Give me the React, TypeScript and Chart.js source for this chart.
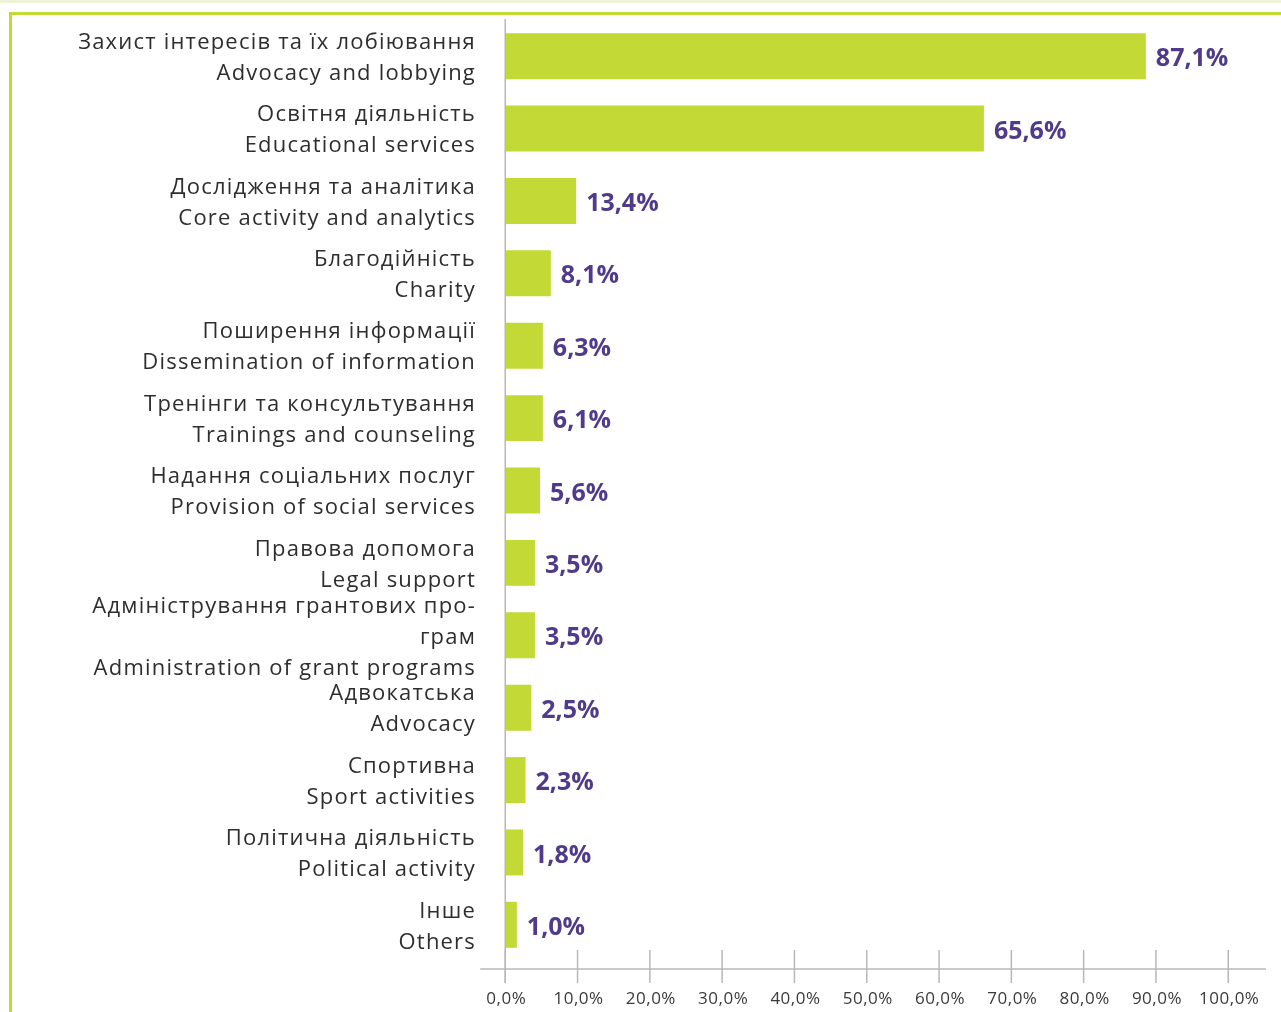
import React, { useEffect, useRef } from "react";
import { Chart, registerables } from "chart.js";

Chart.register(...registerables);

const labelsUk: string[][] = [
  ["Захист інтересів та їх лобіювання"],
  ["Освітня діяльність"],
  ["Дослідження та аналітика"],
  ["Благодійність"],
  ["Поширення інформації"],
  ["Тренінги та консультування"],
  ["Надання соціальних послуг"],
  ["Правова допомога"],
  ["Адміністрування грантових про-", "грам"],
  ["Адвокатська"],
  ["Спортивна"],
  ["Політична діяльність"],
  ["Інше"],
];

const labelsEn: string[] = [
  "Advocacy and lobbying",
  "Educational services",
  "Core activity and analytics",
  "Charity",
  "Dissemination of information",
  "Trainings and counseling",
  "Provision of social services",
  "Legal support",
  "Administration of grant programs",
  "Advocacy",
  "Sport activities",
  "Political activity",
  "Others",
];

const barValues: number[] = [88.5, 66.1, 9.7, 6.2, 5.1, 5.1, 4.7, 4.0, 4.0, 3.5, 2.7, 2.35, 1.5];

// printed value labels
const valueLabels: string[] = [
  "87,1%", "65,6%", "13,4%", "8,1%", "6,3%", "6,1%", "5,6%",
  "3,5%", "3,5%", "2,5%", "2,3%", "1,8%", "1,0%",
];

const xTicks: number[] = [0, 10, 20, 30, 40, 50, 60, 70, 80, 90, 100];
const xTickLabels: string[] = [
  "0,0%", "10,0%", "20,0%", "30,0%", "40,0%", "50,0%",
  "60,0%", "70,0%", "80,0%", "90,0%", "100,0%",
];

const FONT = "'Open Sans', 'Noto Sans', sans-serif";
const BAR_COLOR = "#c3d935";
const PURPLE = "#503b8b";
const AXIS_COLOR = "#b8b8b8";

export default function App() {
  const canvasRef = useRef<HTMLCanvasElement | null>(null);

  useEffect(() => {
    const canvas = canvasRef.current;
    if (!canvas) return;

    const axisPlugin = {
      id: "customAxes",
      beforeDraw(chart: any) {
        (chart.ctx as any).letterSpacing = "1.2px";
      },
      beforeDatasetsDraw(chart: any) {
        const { ctx, chartArea, scales } = chart;
        const xs = scales.x;
        const axisY = chartArea.bottom + 8;
        ctx.save();
        (ctx as any).letterSpacing = "0.5px";
        ctx.strokeStyle = AXIS_COLOR;
        ctx.lineWidth = 1.5;
        const x0 = xs.getPixelForValue(0) - 0.75;
        ctx.beginPath();
        ctx.moveTo(x0, chartArea.top - 1);
        ctx.lineTo(x0, axisY + 14);
        ctx.stroke();
        ctx.beginPath();
        ctx.moveTo(x0 - 25, axisY);
        ctx.lineTo(xs.getPixelForValue(100) + 37, axisY);
        ctx.stroke();
        xTicks.forEach((v, i) => {
          const px = xs.getPixelForValue(v) - 0.75;
          ctx.beginPath();
          ctx.moveTo(px, axisY - 19);
          ctx.lineTo(px, axisY + 14);
          ctx.stroke();
          ctx.fillStyle = "#3a3a3a";
          ctx.font = `17px ${FONT}`;
          ctx.textAlign = "center";
          ctx.textBaseline = "middle";
          ctx.fillText(xTickLabels[i], px + 1, axisY + 30);
        });
        ctx.restore();
      },
      afterDatasetsDraw(chart: any) {
        const { ctx } = chart;
        const meta = chart.getDatasetMeta(0);
        ctx.save();
        (ctx as any).letterSpacing = "0px";
        ctx.fillStyle = PURPLE;
        ctx.font = `bold 25px ${FONT}`;
        ctx.textAlign = "left";
        ctx.textBaseline = "middle";
        meta.data.forEach((el: any, i: number) => {
          ctx.fillText(valueLabels[i], el.x + 10, el.y + 3);
        });
        ctx.restore();
      },
    };

    const labels = labelsUk.map((uk, i) => [...uk, labelsEn[i]]);

    const chart = new Chart(canvas, {
      type: "bar",
      data: {
        labels,
        datasets: [
          {
            data: barValues,
            backgroundColor: BAR_COLOR,
            borderWidth: 0,
            barPercentage: 0.635,
            categoryPercentage: 1,
          },
        ],
      },
      options: {
        indexAxis: "y",
        animation: false,
        responsive: false,
        devicePixelRatio: 1,
        layout: { padding: { left: 0, right: 52, top: 20, bottom: 51 } },
        plugins: {
          legend: { display: false },
          tooltip: { enabled: false },
        },
        scales: {
          x: { type: "linear", min: 0, max: 100, display: false },
          y: {
            grid: { display: false, drawTicks: false },
            border: { display: false },
            ticks: {
              autoSkip: false,
              padding: 30,
              labelOffset: 2,
              color: "#2e2e2e",
              font: { family: FONT, size: 22, lineHeight: 31 / 22 },
            },
            afterFit: (s: any) => {
              s.width = 506;
              s.paddingTop = 0;
              s.paddingBottom = 0;
            },
          },
        },
      },
      plugins: [axisPlugin],
    } as any);

    return () => chart.destroy();
  }, []);

  return (
    <div
      style={{
        position: "fixed",
        left: 0,
        top: 0,
        width: 1281,
        height: 1012,
        background: "#ffffff",
        overflow: "hidden",
      }}
    >
      <div style={{ position: "absolute", left: 0, top: 0, width: 1281, height: 3, background: "#eef4d8" }} />
      <div style={{ position: "absolute", left: 9, top: 12, width: 1272, height: 3, background: BAR_COLOR }} />
      <div style={{ position: "absolute", left: 9, top: 12, width: 3, height: 1000, background: BAR_COLOR }} />
      <canvas
        ref={canvasRef}
        width={1281}
        height={1012}
        style={{ position: "absolute", left: 0, top: 0, width: 1281, height: 1012 }}
      />
    </div>
  );
}
